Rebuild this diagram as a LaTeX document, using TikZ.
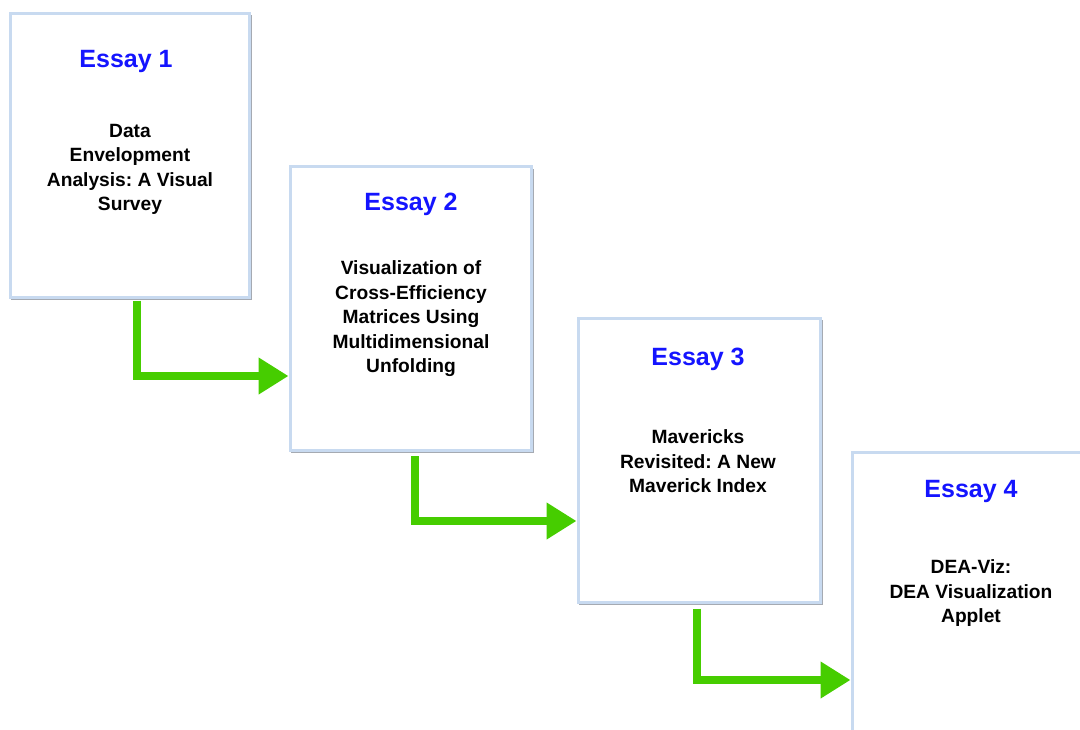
\documentclass[tikz,border=0pt]{standalone}
\usepackage{fontspec}
\setmainfont{Liberation Sans}
\usetikzlibrary{arrows.meta,calc}
\definecolor{boxblue}{RGB}{200,218,240}
\definecolor{shadowgray}{RGB}{165,170,178}
\definecolor{titleblue}{RGB}{20,20,255}
\definecolor{arrowgreen}{RGB}{70,205,0}
\tikzset{
  essaybox/.style={draw=boxblue, line width=3pt, fill=white, minimum width=#1, minimum height=284pt, inner sep=0pt},
  essaytitle/.style={text=titleblue, font=\fontsize{25}{29}\selectfont\bfseries, inner sep=0pt},
  essaybody/.style={text=black, font=\fontsize{19.2}{24.5}\selectfont\bfseries, align=center, inner sep=0pt},
  conn/.style={draw=arrowgreen, line width=8pt, line join=miter, -{Triangle[length=30pt,width=35pt]}},
}
\begin{document}
\frenchspacing
\begin{tikzpicture}[x=1pt,y=-1pt]
\useasboundingbox (0,0) rectangle (1080,729);
\clip (0,0) rectangle (1080,729);
% shadows
\foreach \l/\t/\r/\b in {10/13/249/297, 290/167/531/450, 578/318/820/602, 852/452/1092/736}{
  \draw[shadowgray, line width=1pt] (\l+1,\b+2) -- (\r+2,\b+2) -- (\r+2,\t+2);
}
\node[essaybox=239pt] (b1) at (129.5,155) {};
\node[essaybox=241pt] (b2) at (410.5,308.5) {};
\node[essaybox=242pt] (b3) at (699,460) {};
\node[essaybox=240pt] (b4) at (972,594) {};

\node[essaytitle] (t1) at (126,61.5) {Essay 1};
\node[essaytitle] (t2) at (411,204.5) {Essay 2};
\node[essaytitle] (t3) at (698,359.5) {Essay 3};
\node[essaytitle] (t4) at (971,491.5) {Essay 4};

\node[essaybody] (d1) at (130,169.5) {Data\\Envelopment\\Analysis: A Visual\\Survey};
\node[essaybody] (d2) at (411,319) {Visualization of\\Cross-Efficiency\\Matrices Using\\Multidimensional\\Unfolding};
\node[essaybody] (d3) at (698,461.5) {Mavericks\\Revisited: A New\\Maverick Index};
\node[essaybody] (d4) at (971,593.5) {DEA-Viz:\\DEA Visualization\\Applet};

\draw[conn] ($(b1.south)+(7.5,2)$) |- (b2.west |- 0,376);
\draw[conn] ($(b2.south)+(4.5,4)$) |- (b3.west |- 0,521);
\draw[conn] ($(b3.south)+(-2,5)$) |- (b4.west |- 0,680);
\end{tikzpicture}
\end{document}
